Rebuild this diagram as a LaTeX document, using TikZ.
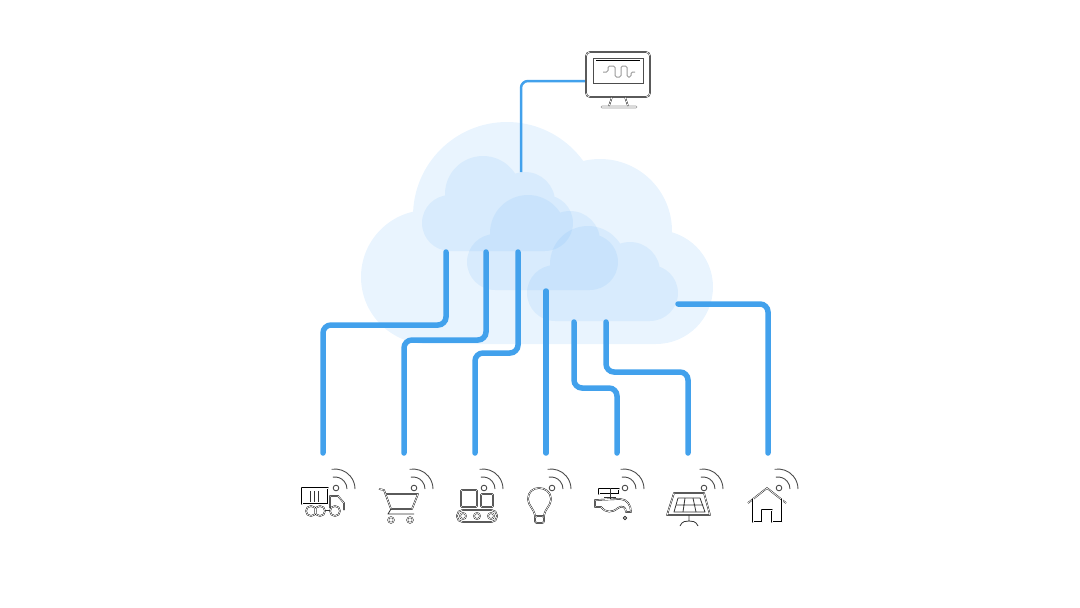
\documentclass[tikz,border=0pt]{standalone}
\definecolor{linkblue}{HTML}{42A1EC}
\definecolor{cloudbig}{HTML}{E9F4FE}
\definecolor{cloudsoft}{RGB}{83,169,246}
\tikzset{
    link/.style={draw=linkblue,line width=5.5pt,line cap=round,rounded corners=8pt},
    thinlink/.style={draw=linkblue,line width=2.5pt,rounded corners=7pt},
    icon/.style={draw=black,line width=.42pt,double=white,double distance=.7pt,line join=round},
    iconthin/.style={draw=black!80,line width=.8pt,line join=round},
    wifiline/.style={draw=black!70,line width=.9pt},
    softcloud/.pic={
        \fill[cloudsoft,fill opacity=.11]
            (450,223) circle (28pt) (483,194) circle (38pt) (525,202) circle (30pt)
            (545,223) circle (28pt) (545,251) rectangle (450,200);
    },
    wifi/.pic={
        \draw[wifiline] (0,0) circle (2.8pt);
        \draw[wifiline] (-1,1) ++(100:12pt) arc[start angle=100,end angle=0,radius=12pt];
        \draw[wifiline] (-1,1) ++(100:20pt) arc[start angle=100,end angle=0,radius=20pt];
    }
}
\begin{document}
\begin{tikzpicture}[x=1pt,y=-1pt]
    \useasboundingbox (0,0) rectangle (1080,608);
    %% Big cloud
    \fill[cloudbig] (428,277) circle (67pt) (507,216) circle (94pt) (600,231) circle (72pt)
        (656,287) circle (57pt) (656,344) rectangle (428,216);
    %% Small clouds
    \pic at (0,0) {softcloud};
    \pic at (45,39) {softcloud};
    \pic at (105,70) {softcloud};
    %% Link ends
    \coordinate (hub) at (521,172);
    \coordinate (screen) at (586,81);
    \coordinate (truck) at (323,453);
    \coordinate (cart) at (404,453);
    \coordinate (belt) at (475,453);
    \coordinate (bulb) at (546,453);
    \coordinate (tap) at (617,453);
    \coordinate (solar) at (688,453);
    \coordinate (house) at (768,453);
    %% Links
    \draw[thinlink] (hub) |- (screen);
    \draw[link] (446,252) -- (446,325) -- (323,325) -- (truck);
    \draw[link] (486,252) -- (486,340) -- (404,340) -- (cart);
    \draw[link] (518,252) -- (518,353) -- (475,353) -- (belt);
    \draw[link] (546,291) -- (bulb);
    \draw[link] (574,322) -- (574,388) -- (617,388) -- (tap);
    \draw[link] (606,322) -- (606,372) -- (688,372) -- (solar);
    \draw[link] (678,304) -- (768,304) -- (house);
    %% Monitor
    \draw[icon,rounded corners=4pt] (586,52) rectangle (650,97);
    \draw[black!70,line width=.6pt] (593,58) rectangle (643,83);
    \draw[black,line width=.9pt] (596,60) -- (640,60);
    \draw[black!40,line width=1pt,rounded corners=1.5pt] (603,72) -- (608,72) -- (608,66) -- (615,66)
        -- (615,77) -- (621,77) -- (621,66) -- (627,66) -- (627,77) -- (631,77) -- (631,72) -- (635,72);
    \draw[icon] (612,97) -- (609,106) (625,97) -- (628,106);
    \draw[black!40,line width=.6pt,rounded corners=1pt] (601,106) rectangle (637,108);
    %% Truck
    \pic at (336,488) {wifi};
    \draw[icon] (302,488) rectangle (328,504);
    \draw[iconthin,line width=1pt] (310,491) -- (310,502) (314,491) -- (314,502) (318,491) -- (318,502);
    \draw[icon] (330,508) -- (330,496) -- (338,496) -- (344,503) -- (344,510);
    \draw[icon] (311,511) circle (5pt) (320,511) circle (5pt) (335,511) circle (5pt);
    \draw[iconthin] (325,510) -- (330,510);
    %% Cart
    \pic at (414,488) {wifi};
    \draw[icon] (379,489) -- (384,490) -- (391,509) -- (412,509) -- (418,494) -- (385,494);
    \draw[iconthin] (391,509) -- (388,514) -- (414,514);
    \draw[icon] (391,520) circle (2.8pt) (410,520) circle (2.8pt);
    %% Conveyor
    \pic at (484,488) {wifi};
    \draw[icon,rounded corners=1pt] (461,490) rectangle (477,507);
    \draw[icon,rounded corners=1pt] (481,494) rectangle (493,507);
    \draw[icon,rounded corners=5.5pt] (457,510) rectangle (497,522);
    \draw[icon] (463,516) circle (3pt) (477,516) circle (3pt) (491,516) circle (3pt);
    %% Bulb
    \pic at (552,488) {wifi};
    \draw[icon] (535,516) .. controls (534,508) and (528,506) .. (528,499)
        .. controls (528,492) and (533,488) .. (539,488)
        .. controls (545,488) and (551,492) .. (551,499)
        .. controls (551,506) and (545,508) .. (544,516) -- cycle;
    \draw[icon,rounded corners=1.5pt] (535,516) rectangle (544,523);
    %% Tap
    \pic at (625,488) {wifi};
    \draw[icon] (599,489) rectangle (619,494);
    \draw[iconthin] (610,488) -- (610,499) (604,497) -- (616,497);
    \draw[icon] (595,500) -- (620,499) .. controls (627,499) and (631,505) .. (631,512) -- (626,512)
        .. controls (626,507) and (622,505) .. (618,508) .. controls (612,513) and (606,513) .. (601,507) -- (595,507) -- cycle;
    \draw[iconthin] (625,518) circle (1.8pt);
    %% Solar panel
    \pic at (704,488) {wifi};
    \draw[icon] (674,493) -- (704,493) -- (710,515) -- (667,515) -- cycle;
    \draw[iconthin] (678,498) -- (700,498) -- (705,512) -- (674,512) -- cycle;
    \draw[iconthin] (676,505) -- (703,505) (685,498) -- (683,512) (693,498) -- (696,512);
    \draw[iconthin] (689,515) -- (689,521) (680,526) .. controls (682,521) and (686,521) .. (689,521)
        .. controls (692,521) and (696,521) .. (698,526);
    %% House
    \pic at (779,488) {wifi};
    \draw[icon] (748,503) -- (767,488) -- (786,503);
    \draw[icon] (753,499) -- (753,522) -- (762,522) -- (762,510) -- (772,510) -- (772,522) -- (782,522) -- (782,499);
\end{tikzpicture}
\end{document}
